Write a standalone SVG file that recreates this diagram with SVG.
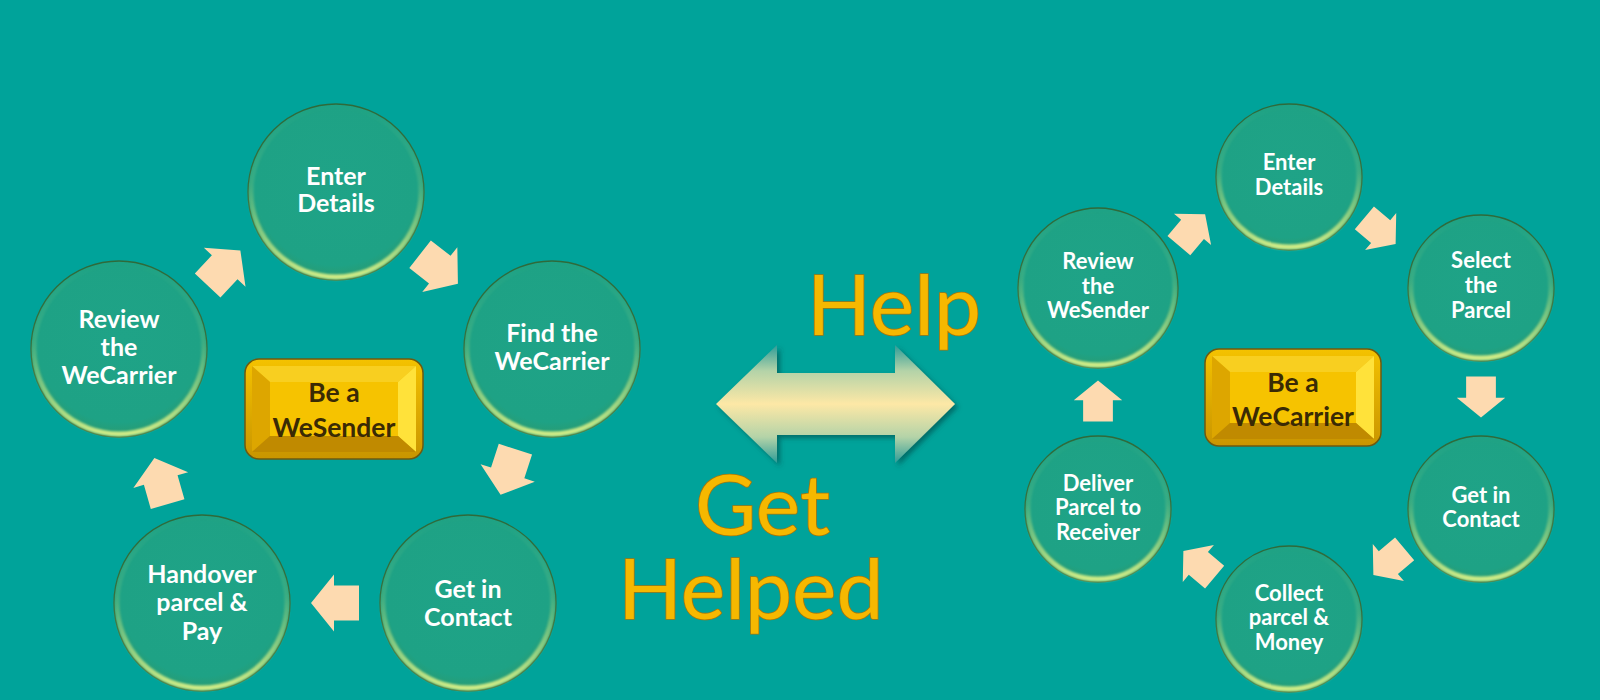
<svg xmlns="http://www.w3.org/2000/svg" width="1600" height="700" viewBox="0 0 1600 700">
<defs>
<style>
.bg{fill:#00A39A}
.circ{fill:url(#circFill);stroke:#2F6A3A;stroke-width:1.3}
.rim{fill:none;stroke:url(#rimGrad);stroke-width:5;filter:url(#soft)}
.ct{font-family:Lato,"Open Sans","Liberation Sans",sans-serif;font-weight:700;fill:#FFFFFF;text-anchor:middle}
.big{font-size:25px}
.sm{font-size:22px}
.bt{font-family:Lato,"Open Sans","Liberation Sans",sans-serif;font-weight:700;fill:#3A2A05;text-anchor:middle;font-size:26.5px}
.arr{fill:#FDDAB0}
.hl{font-family:Lato,"Open Sans","Liberation Sans",sans-serif;font-weight:400;font-size:84px;fill:#F6B800;stroke:#A8760A;stroke-width:1.6;paint-order:stroke}
</style>
<radialGradient id="circFill" cx="50%" cy="45%" r="55%">
<stop offset="0" stop-color="#1FA387"/>
<stop offset="0.85" stop-color="#1EA285"/>
<stop offset="1" stop-color="#2B9A6E"/>
</radialGradient>
<linearGradient id="rimGrad" x1="0" y1="0" x2="0" y2="1">
<stop offset="0" stop-color="#CDEB84" stop-opacity="0"/>
<stop offset="0.45" stop-color="#CDEB84" stop-opacity="0.15"/>
<stop offset="1" stop-color="#D8F088" stop-opacity="0.95"/>
</linearGradient>
<filter id="soft" x="-10%" y="-10%" width="120%" height="120%"><feGaussianBlur stdDeviation="1.2"/></filter>
<filter id="shadow" x="-10%" y="-20%" width="125%" height="140%"><feDropShadow dx="3" dy="3" stdDeviation="2.5" flood-color="#00403C" flood-opacity="0.55"/></filter>
<linearGradient id="goldOuter" x1="0" y1="0" x2="0" y2="1">
<stop offset="0" stop-color="#F4C200"/>
<stop offset="1" stop-color="#C99500"/>
</linearGradient>
<linearGradient id="dbl" gradientUnits="userSpaceOnUse" x1="0" y1="345" x2="0" y2="463">
<stop offset="0" stop-color="#2E9C98"/>
<stop offset="0.22" stop-color="#B4D3A8"/>
<stop offset="0.5" stop-color="#FDE8A6"/>
<stop offset="0.78" stop-color="#B4D3A8"/>
<stop offset="1" stop-color="#2E9C98"/>
</linearGradient>
<path id="ar" d="M-24,-17.5 L1,-17.5 L1,-28.5 L24,0 L1,28.5 L1,17.5 L-24,17.5 Z"/>
</defs>

<rect class="bg" x="0" y="0" width="1600" height="700"/>

<!-- connectors -->
<g id="connectors">
<use href="#ar" class="arr" transform="translate(224,268) rotate(-47)"/>
<use href="#ar" class="arr" transform="translate(439,269) rotate(38)"/>
<use href="#ar" class="arr" transform="translate(508,472) rotate(108)"/>
<use href="#ar" class="arr" transform="translate(335,603) rotate(180)"/>
<use href="#ar" class="arr" transform="translate(161,481) rotate(-106)"/>

<use href="#ar" class="arr" transform="translate(1192,230) rotate(-50) scale(0.85)"/>
<use href="#ar" class="arr" transform="translate(1380,231) rotate(40) scale(0.85)"/>
<use href="#ar" class="arr" transform="translate(1481,397) rotate(90) scale(0.85)"/>
<use href="#ar" class="arr" transform="translate(1389,562) rotate(140) scale(0.85)"/>
<use href="#ar" class="arr" transform="translate(1199,564) rotate(-140) scale(0.85)"/>
<use href="#ar" class="arr" transform="translate(1098,401) rotate(-90) scale(0.85)"/>

<path id="double-arrow" d="M716,404 L777,345 L777,373 L895,373 L895,345 L955,404 L895,463 L895,435 L777,435 L777,463 Z" fill="url(#dbl)" filter="url(#shadow)"/>
</g>

<!-- middle texts -->
<g id="help-text">
<text class="hl" x="807" y="335">Help</text>
<text class="hl" x="695" y="535">Get</text>
<text class="hl" x="618" y="619">Helped</text>
</g>

<!-- Left cycle -->
<g id="l-enter">
<circle class="circ" cx="336" cy="192" r="88"/><circle class="rim" cx="336" cy="192" r="85"/>
<text class="ct big" x="336"><tspan x="336" y="185">Enter</tspan><tspan x="336" y="212">Details</tspan></text>
</g>
<g id="l-find">
<circle class="circ" cx="552" cy="349" r="88"/><circle class="rim" cx="552" cy="349" r="85"/>
<text class="ct big"><tspan x="552" y="342">Find the</tspan><tspan x="552" y="370">WeCarrier</tspan></text>
</g>
<g id="l-contact">
<circle class="circ" cx="468" cy="603" r="88"/><circle class="rim" cx="468" cy="603" r="85"/>
<text class="ct big"><tspan x="468" y="598">Get in</tspan><tspan x="468" y="626">Contact</tspan></text>
</g>
<g id="l-handover">
<circle class="circ" cx="202" cy="603" r="88"/><circle class="rim" cx="202" cy="603" r="85"/>
<text class="ct big"><tspan x="202" y="583">Handover</tspan><tspan x="202" y="611">parcel &amp;</tspan><tspan x="202" y="640">Pay</tspan></text>
</g>
<g id="l-review">
<circle class="circ" cx="119" cy="349" r="88"/><circle class="rim" cx="119" cy="349" r="85"/>
<text class="ct big"><tspan x="119" y="328">Review</tspan><tspan x="119" y="356">the</tspan><tspan x="119" y="384">WeCarrier</tspan></text>
</g>
<g id="l-center">
<rect x="245" y="359" width="178" height="100" rx="14" fill="url(#goldOuter)" stroke="#6E5A10" stroke-width="1.5"/>
<polygon points="252,366 416,366 398,382 270,382" fill="#F8CF20"/>
<polygon points="252,366 270,382 270,436 252,452" fill="#DDA600"/>
<polygon points="416,366 416,452 398,436 398,382" fill="#FFE23A"/>
<polygon points="252,452 270,436 398,436 416,452" fill="#C08A00"/>
<rect x="270" y="382" width="128" height="54" fill="#F6C300"/>
<text class="bt"><tspan x="334" y="402">Be a</tspan><tspan x="334" y="437">WeSender</tspan></text>
</g>

<!-- Right cycle -->
<g id="r-enter">
<circle class="circ" cx="1289" cy="177" r="73"/><circle class="rim" cx="1289" cy="177" r="70"/>
<text class="ct sm"><tspan x="1289" y="170">Enter</tspan><tspan x="1289" y="195">Details</tspan></text>
</g>
<g id="r-select">
<circle class="circ" cx="1481" cy="288" r="73"/><circle class="rim" cx="1481" cy="288" r="70"/>
<text class="ct sm"><tspan x="1481" y="268">Select</tspan><tspan x="1481" y="293">the</tspan><tspan x="1481" y="318">Parcel</tspan></text>
</g>
<g id="r-contact">
<circle class="circ" cx="1481" cy="509" r="73"/><circle class="rim" cx="1481" cy="509" r="70"/>
<text class="ct sm"><tspan x="1481" y="503">Get in</tspan><tspan x="1481" y="527">Contact</tspan></text>
</g>
<g id="r-collect">
<circle class="circ" cx="1289" cy="619" r="73"/><circle class="rim" cx="1289" cy="619" r="70"/>
<text class="ct sm"><tspan x="1289" y="601">Collect</tspan><tspan x="1289" y="625">parcel &amp;</tspan><tspan x="1289" y="650">Money</tspan></text>
</g>
<g id="r-deliver">
<circle class="circ" cx="1098" cy="509" r="73"/><circle class="rim" cx="1098" cy="509" r="70"/>
<text class="ct sm"><tspan x="1098" y="491">Deliver</tspan><tspan x="1098" y="515">Parcel to</tspan><tspan x="1098" y="540">Receiver</tspan></text>
</g>
<g id="r-review">
<circle class="circ" cx="1098" cy="288" r="80"/><circle class="rim" cx="1098" cy="288" r="77"/>
<text class="ct sm"><tspan x="1098" y="269">Review</tspan><tspan x="1098" y="294">the</tspan><tspan x="1098" y="318">WeSender</tspan></text>
</g>
<g id="r-center">
<rect x="1205" y="349" width="176" height="97" rx="14" fill="url(#goldOuter)" stroke="#6E5A10" stroke-width="1.5"/>
<polygon points="1212,356 1374,356 1356,372 1230,372" fill="#F8CF20"/>
<polygon points="1212,356 1230,372 1230,423 1212,439" fill="#DDA600"/>
<polygon points="1374,356 1374,439 1356,423 1356,372" fill="#FFE23A"/>
<polygon points="1212,439 1230,423 1356,423 1374,439" fill="#C08A00"/>
<rect x="1230" y="372" width="126" height="51" fill="#F6C300"/>
<text class="bt"><tspan x="1293" y="392">Be a</tspan><tspan x="1293" y="426">WeCarrier</tspan></text>
</g>
</svg>
